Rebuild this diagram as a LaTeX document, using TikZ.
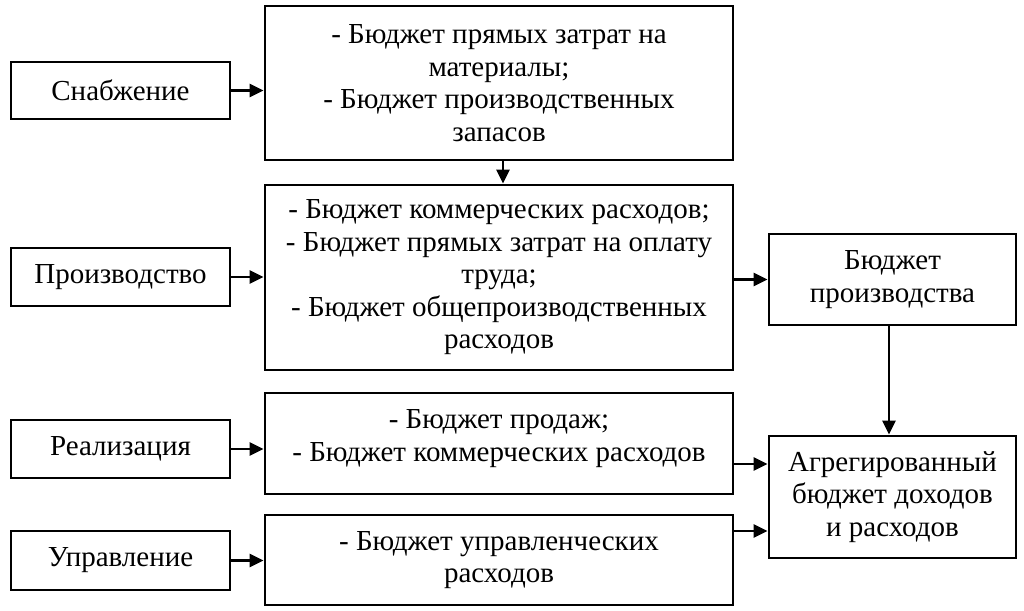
\documentclass[tikz,border=0pt]{standalone}
\usepackage{fontspec}
\setmainfont{Liberation Serif}
\usetikzlibrary{arrows.meta}
\begin{document}
\begin{tikzpicture}[x=1pt,y=-1pt,
  box/.style={draw=black, line width=2.9pt, rectangle, align=center, inner sep=0pt,
    font=\fontsize{29}{32.5}\selectfont},
  arr/.style={line width=2.9pt, -{Triangle[length=14pt,width=13pt]}}]
\fill[white] (0,0) rectangle (1024,610);
\useasboundingbox (0,0) rectangle (1024,610);
% left column
\node[box, minimum width=219pt, minimum height=57pt] (sn) at (120.5,90.5) {Снабжение};
\node[box, minimum width=219pt, minimum height=58pt] (pr) at (120.5,277) {Производство};
\node[box, minimum width=219pt, minimum height=58pt] (re) at (120.5,449) {Реализация};
\node[box, minimum width=219pt, minimum height=59pt] (up) at (120.5,560.5) {Управление};
% middle column
\node[box, minimum width=468pt, minimum height=154pt] (b1) at (499,83)
  {- Бюджет прямых затрат на\\материалы;\\- Бюджет производственных\\запасов};
\node[box, minimum width=468pt, minimum height=185pt] (b2) at (499,277.5)
  {- Бюджет коммерческих расходов;\\- Бюджет прямых затрат на оплату\\труда;\\- Бюджет общепроизводственных\\расходов};
\node[box, minimum width=468pt, minimum height=101pt, text depth=16pt] (b3) at (499,443.5)
  {- Бюджет продаж;\\- Бюджет коммерческих расходов};
\node[box, minimum width=468pt, minimum height=90pt] (b4) at (499,560)
  {- Бюджет управленческих\\расходов};
% right column
\node[box, minimum width=247pt, minimum height=91pt] (bp) at (892.5,279.5)
  {Бюджет\\производства};
\node[box, minimum width=247pt, minimum height=122pt] (ag) at (892.5,497)
  {Агрегированный\\бюджет доходов\\и расходов};
% connectors
\draw[arr] (sn.east) -- (sn.east -| b1.west);
\draw[arr] (b1.south -| 503,0) -- (b2.north -| 503,0);
\draw[arr] (pr.east) -- (pr.east -| b2.west);
\draw[arr] (b2.east |- bp.west) -- (bp.west);
\draw[arr] (re.east) -- (re.east -| b3.west);
\draw[arr] (up.east) -- (up.east -| b4.west);
\draw[arr] (bp.south -| 889,0) -- (ag.north -| 889,0);
\draw[arr] (b3.east |- 0,464) -- (ag.west |- 0,464);
\draw[arr] (b4.east |- 0,531) -- (ag.west |- 0,531);
\end{tikzpicture}
\end{document}
